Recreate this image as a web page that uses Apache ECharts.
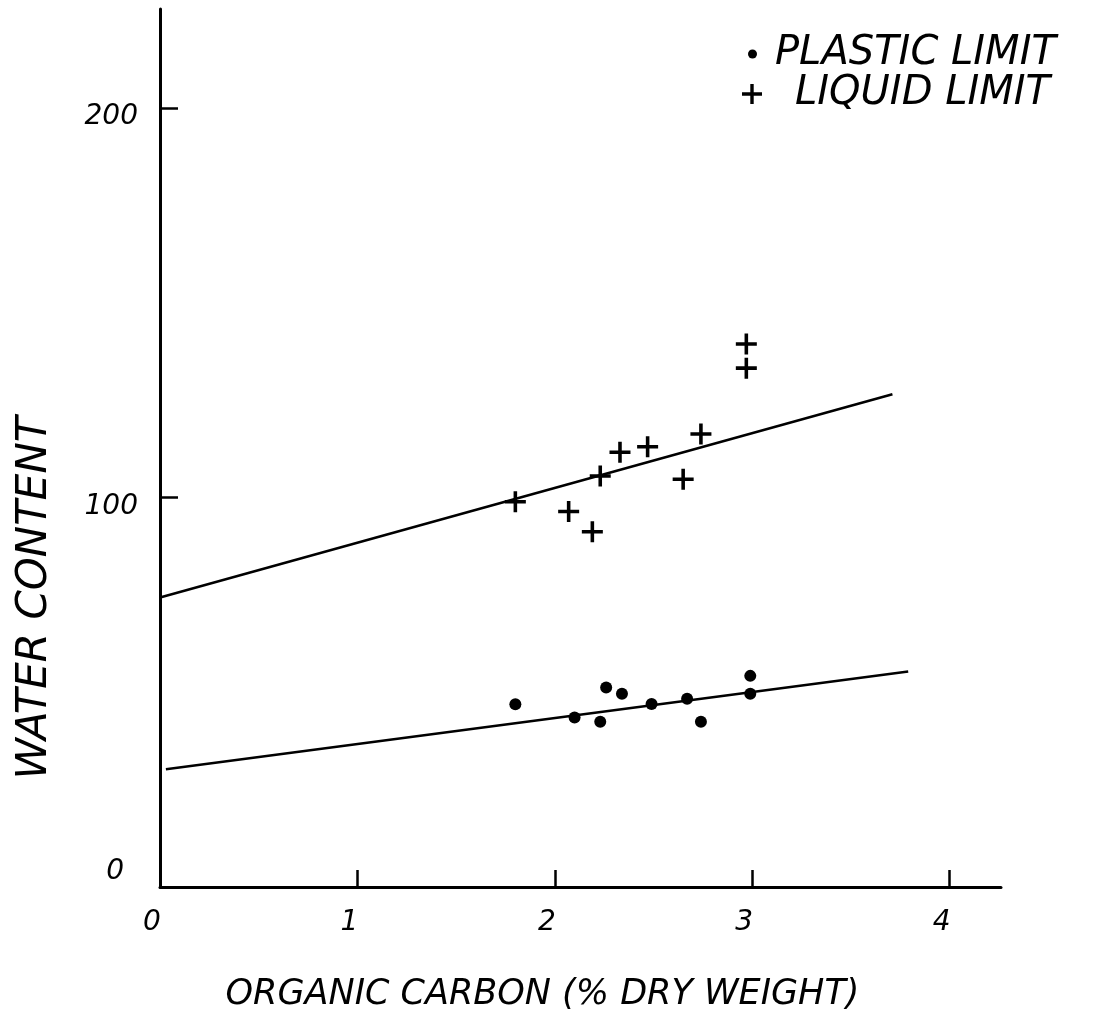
<!DOCTYPE html>
<html><head><meta charset="utf-8">
<script src="https://cdn.jsdelivr.net/npm/echarts@6/dist/echarts.min.js"></script>
<style>html,body{margin:0;padding:0;background:#fff}#c{width:1099px;height:1020px}</style>
</head><body><div id="c"></div>
<script>
// Data
const plasticX = [1.80, 2.10, 2.26, 2.23, 2.34, 2.49, 2.67, 2.74, 2.99, 2.99];
const plasticY = [46.9, 43.5, 51.2, 42.4, 49.6, 47.0, 48.3, 42.4, 54.2, 49.6];
const liquidX  = [1.80, 2.07, 2.19, 2.23, 2.33, 2.47, 2.65, 2.74, 2.97, 2.97];
const liquidY  = [98.9, 96.4, 91.2, 105.5, 111.6, 113.0, 104.7, 116.3, 139.4, 133.2];
const plasticFitX = [0.03, 3.79];
const plasticFitY = [30.2, 55.3];
const liquidFitX  = [0.0, 3.71];
const liquidFitY  = [74.3, 126.5];
const xTickValues = [0, 1, 2, 3, 4];
const yTickValues = [0, 100, 200];
const seriesNames = ['PLASTIC LIMIT', 'LIQUID LIMIT'];
const xTitle = 'ORGANIC CARBON (% DRY WEIGHT)';
const yTitle = 'WATER CONTENT';

const zip = (xs, ys) => xs.map((x, i) => [x, ys[i]]);
const FONT = 'DejaVu Sans';
const plusPath = 'path://M0,8.3H20V11.7H0Z M8.3,0H11.7V20H8.3Z';

const chart = echarts.init(document.getElementById('c'), null, {renderer: 'canvas'});
chart.setOption({
  backgroundColor: '#ffffff',
  animation: false,
  grid: {left: 160, right: 98, top: 9, bottom: 133, containLabel: false},
  legend: [
    {
      data: [{name: seriesNames[0], icon: 'circle'}],
      left: 748, top: 34, padding: 0, itemWidth: 9, itemHeight: 9,
      textStyle: {fontFamily: FONT, fontStyle: 'italic', fontSize: 40, color: '#000', padding: [0, 0, 0, 13]},
      itemStyle: {opacity: 1},
      selectedMode: false
    },
    {
      data: [{name: seriesNames[1], icon: plusPath}],
      left: 742, top: 74, padding: 0, itemWidth: 20, itemHeight: 20,
      textStyle: {fontFamily: FONT, fontStyle: 'italic', fontSize: 40, color: '#000', padding: [0, 0, 0, 28]},
      itemStyle: {opacity: 1},
      selectedMode: false
    }
  ],
  xAxis: {
    type: 'value', min: 0, max: 4.26, interval: 1,
    splitLine: {show: false},
    axisLine: {show: true, lineStyle: {color: '#000', width: 3}},
    axisTick: {show: true, inside: true, length: 17, lineStyle: {color: '#000', width: 2.5}, customValues: [1, 2, 3, 4]},
    axisLabel: {
      customValues: xTickValues, margin: 22, color: '#000',
      fontFamily: FONT, fontStyle: 'italic', fontSize: 28, padding: [0, 16, 0, 0]
    },
    name: xTitle, nameLocation: 'middle', nameGap: 90,
    nameTextStyle: {fontFamily: FONT, fontStyle: 'italic', fontSize: 35, color: '#000', padding: [0, 76, 0, 0]}
  },
  yAxis: {
    type: 'value', min: 0, max: 225.4, interval: 100,
    splitLine: {show: false},
    axisLine: {show: true, lineStyle: {color: '#000', width: 3}},
    axisTick: {show: true, inside: true, length: 18, lineStyle: {color: '#000', width: 2.5}, customValues: [100, 200]},
    axisLabel: {
      customValues: yTickValues, margin: 22, color: '#000',
      fontFamily: FONT, fontStyle: 'italic', fontSize: 28,
      formatter: v => v === 0 ? '{z|0}' : '{n|' + v + '}',
      rich: {
        z: {fontFamily: FONT, fontStyle: 'italic', fontSize: 28, color: '#000', padding: [0, 14, 30, 0]},
        n: {fontFamily: FONT, fontStyle: 'italic', fontSize: 28, color: '#000', padding: [18, 0, 0, 0]}
      }
    },
    name: yTitle, nameLocation: 'middle', nameGap: 104,
    nameTextStyle: {fontFamily: FONT, fontStyle: 'italic', fontSize: 42, color: '#000', padding: [0, 300, 0, 0]}
  },
  series: [
    {
      name: seriesNames[0], type: 'scatter', data: zip(plasticX, plasticY),
      symbol: 'circle', symbolSize: 12, itemStyle: {color: '#000', opacity: 1}
    },
    {
      name: seriesNames[1], type: 'scatter', data: zip(liquidX, liquidY),
      symbol: plusPath, symbolSize: 21, itemStyle: {color: '#000', opacity: 1}
    },
    {
      name: 'plastic fit', type: 'line', data: zip(plasticFitX, plasticFitY),
      showSymbol: false, silent: true, lineStyle: {color: '#000', width: 2.5}
    },
    {
      name: 'liquid fit', type: 'line', data: zip(liquidFitX, liquidFitY),
      showSymbol: false, silent: true, lineStyle: {color: '#000', width: 2.5}
    }
  ]
});
</script>
</body></html>
